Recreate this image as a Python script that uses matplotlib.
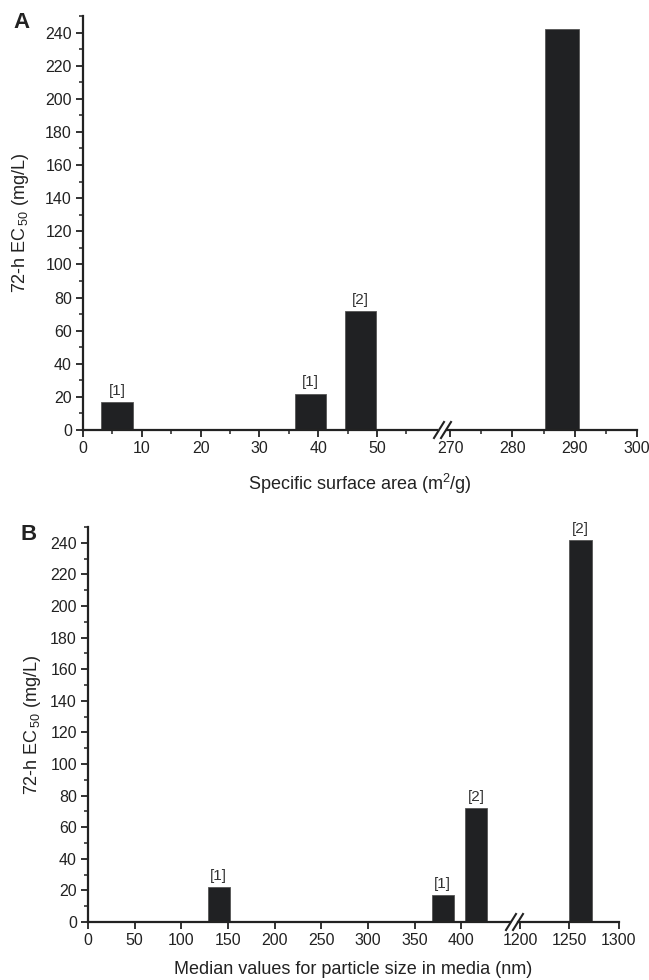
import matplotlib.pyplot as plt
from matplotlib.ticker import MultipleLocator, FixedLocator

plt.rcParams['font.family'] = ['Liberation Sans', 'DejaVu Sans']
plt.rcParams['mathtext.fontset'] = 'custom'
plt.rcParams['mathtext.rm'] = 'Liberation Sans'
plt.rcParams['mathtext.it'] = 'Liberation Sans:italic'

# Panel A: specific surface area (m2/g) vs EC50
area_x = [5.8, 38.7, 47.2, 288.0]
area_y = [17, 22, 72, 242]
area_ref = ['[1]', '[1]', '[2]', '']
area_width = 5.4

# Panel B: median particle size in media (nm) vs EC50
size_x = [140, 380, 416, 1261]
size_y = [22, 17, 72, 242]
size_ref = ['[1]', '[1]', '[2]', '[2]']
size_width = 23.5

bar_color = '#202123'
ink = '#222222'

fig = plt.figure(figsize=(6.49, 9.8), dpi=100)

# pixel geometry of the reference (649 x 980)
W, H = 649, 980


def rect(x0, x1, y0, y1):
    return [x0 / W, (H - y0) / H, (x1 - x0) / W, (y0 - y1) / H]


def make_panel(px_l, px_r, y0, y1, xlim_l, xlim_r, xs, ys, refs, width,
               ticks_l, ticks_r, minor_l, minor_r, xlabel, xlabel_y,
               letter, letter_pos, slashes, ylabel_pad):
    axl = fig.add_axes(rect(px_l[0], px_l[1], y0, y1))
    axr = fig.add_axes(rect(px_r[0], px_r[1], y0, y1))
    for ax, lim in ((axl, xlim_l), (axr, xlim_r)):
        for x, y, r in zip(xs, ys, refs):
            if lim[0] <= x <= lim[1]:
                ax.bar(x, y, width=width, color=bar_color, edgecolor='#555555',
                       linewidth=0.6, zorder=2)
                if r:
                    ax.text(x, y + 2.5, r, ha='center', va='bottom', fontsize=11,
                            color='#333333')
        ax.set_xlim(*lim)
        ax.set_ylim(0, 250)
        ax.spines['top'].set_visible(False)
        ax.spines['right'].set_visible(False)
        ax.spines['bottom'].set_linewidth(1.6)
        ax.spines['left'].set_linewidth(1.6)
        ax.spines['bottom'].set_color(ink)
        ax.spines['left'].set_color(ink)
        ax.tick_params(axis='both', which='major', direction='out', length=5,
                       width=1.3, labelsize=11.5, colors=ink, pad=3)
        ax.tick_params(axis='both', which='minor', direction='out', length=2.8,
                       width=1.1, colors=ink)
    axl.set_xticks(ticks_l)
    axr.set_xticks(ticks_r)
    if minor_l:
        axl.xaxis.set_minor_locator(FixedLocator(minor_l))
    if minor_r:
        axr.xaxis.set_minor_locator(FixedLocator(minor_r))
    axl.yaxis.set_major_locator(MultipleLocator(20))
    axl.yaxis.set_minor_locator(MultipleLocator(10))
    axr.spines['left'].set_visible(False)
    axr.set_yticks([])
    axl.set_ylabel('72-h EC$_{\\,50}$ (mg/L)', fontsize=13, labelpad=ylabel_pad,
                   color=ink)

    # break marks on the x axis
    for sx in slashes:
        fig.add_artist(plt.Line2D([(sx - 5) / W, (sx + 5) / W],
                                  [(H - y0 - 8) / H, (H - y0 + 8) / H],
                                  transform=fig.transFigure, color=ink,
                                  linewidth=1.5))

    fig.text((px_l[0] + px_r[1]) / 2 / W, (H - xlabel_y) / H, xlabel,
             ha='center', va='center', fontsize=13, color=ink)
    fig.text(letter_pos[0] / W, (H - letter_pos[1]) / H, letter, fontsize=16,
             fontweight='bold', ha='center', va='center', color=ink)


make_panel((83, 437), (447, 637), 430, 16,
           (0, 60.2), (269.5, 300), area_x, area_y, area_ref, area_width,
           [0, 10, 20, 30, 40, 50], [270, 280, 290, 300],
           [5, 15, 25, 35, 45, 55], [275, 285, 295],
           'Specific surface area (m$^2$/g)', 484,
           'A', (22, 23), (439, 446), 10)

make_panel((88, 510), (518, 619), 922, 527,
           (0, 452), (1198, 1300), size_x, size_y, size_ref, size_width,
           [0, 50, 100, 150, 200, 250, 300, 350, 400], [1200, 1250, 1300],
           None, None,
           'Median values for particle size in media (nm)', 969,
           'B', (29, 535), (511, 518), 5)

fig.savefig('out.png', dpi=100)
